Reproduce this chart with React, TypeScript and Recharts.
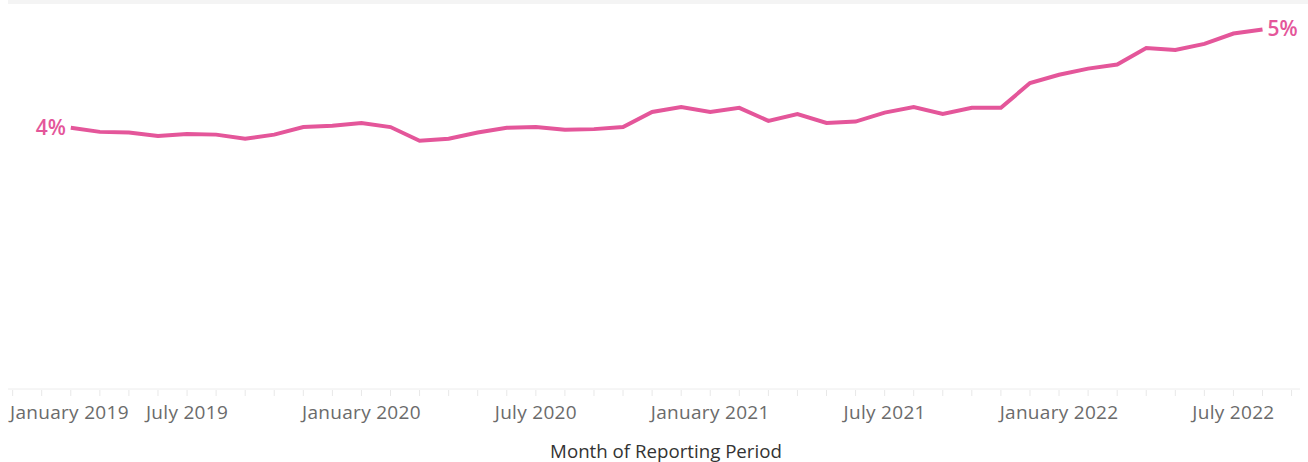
import { LineChart, Line, XAxis, YAxis, LabelList } from "recharts";

// Reporting months (YYYY-MM), one value each
const MONTHS = [
  "2019-03", "2019-04", "2019-05", "2019-06", "2019-07", "2019-08", "2019-09", "2019-10", "2019-11", "2019-12",
  "2020-01", "2020-02", "2020-03", "2020-04", "2020-05", "2020-06", "2020-07", "2020-08", "2020-09", "2020-10", "2020-11", "2020-12",
  "2021-01", "2021-02", "2021-03", "2021-04", "2021-05", "2021-06", "2021-07", "2021-08", "2021-09", "2021-10", "2021-11", "2021-12",
  "2022-01", "2022-02", "2022-03", "2022-04", "2022-05", "2022-06", "2022-07", "2022-08",
];

// Rate in %
const RATE = [
  3.80, 3.74, 3.73, 3.68, 3.71, 3.70, 3.64, 3.70, 3.81, 3.83,
  3.87, 3.81, 3.61, 3.64, 3.73, 3.80, 3.81, 3.77, 3.78, 3.81, 4.03, 4.10,
  4.03, 4.09, 3.90, 4.00, 3.87, 3.89, 4.02, 4.10, 4.00, 4.09, 4.09, 4.45,
  4.57, 4.66, 4.72, 4.96, 4.93, 5.02, 5.17, 5.23,
];

// Labelled ticks every six months, starting January 2019
const TICK_LABELS = [
  "January 2019", "July 2019", "January 2020", "July 2020",
  "January 2021", "July 2021", "January 2022", "July 2022",
];

const PINK = "#e4569a";
const FONT = "'Open Sans', sans-serif";

// "2019-03" -> months since January 2019
const monthIndex = (ym: string): number =>
  (+ym.slice(0, 4) - 2019) * 12 + (+ym.slice(5, 7) - 1);

const data = MONTHS.map((m, i) => ({ m: monthIndex(m), rate: RATE[i] }));
const monthTicks = Array.from({ length: 45 }, (_, i) => i);

const MonthTick = ({ x, y, payload }: any) => {
  const m = payload.value as number;
  const label = m % 6 === 0 ? TICK_LABELS[m / 6] : null;
  return (
    <g>
      <line x1={x} x2={x} y1={y + 1} y2={y + 7} stroke="#e8e8e8" />
      {label && (
        <text
          x={m === 0 ? 10 : x}
          y={y + 30}
          textAnchor={m === 0 ? "start" : "middle"}
          fill="#6b6b6b"
          fontSize={19}
          letterSpacing={0.3}
          fontFamily={FONT}
        >
          {label}
        </text>
      )}
    </g>
  );
};

// only the first and last points carry a label, rounded to whole percent
const EndLabel = ({ x, y, index, value }: any) => {
  if (index !== 0 && index !== RATE.length - 1) return null;
  const first = index === 0;
  return (
    <text
      x={first ? x - 5 : x + 5}
      y={y + 7}
      textAnchor={first ? "end" : "start"}
      fill={PINK}
      fontSize={21}
      fontWeight={600}
      fontFamily={FONT}
    >
      {`${Math.round(value)}%`}
    </text>
  );
};

export default function App() {
  return (
    <div style={{ position: "absolute", left: 0, top: 0, width: 1308, height: 462, background: "#fff" }}>
      <div style={{ position: "absolute", left: 8, top: 0, width: 1300, height: 4, background: "#f4f4f4" }} />
      <LineChart
        width={1308}
        height={462}
        data={data}
        margin={{ top: 15, right: 8, bottom: 0, left: 8 }}
      >
        <XAxis
          dataKey="m"
          type="number"
          domain={[-0.16, 44.29]}
          ticks={monthTicks}
          interval={0}
          height={73}
          tickSize={0}
          tickMargin={0}
          tickLine={false}
          axisLine={{ stroke: "#ececec" }}
          tick={<MonthTick />}
          label={{
            value: "Month of Reporting Period",
            position: "insideBottom",
            offset: 4,
            fill: "#333",
            fontSize: 18.7,
            fontFamily: FONT,
            dx: 12,
          }}
        />
        <YAxis
          width={0}
          domain={[0, 5.44]}
          tick={false}
          tickLine={false}
          axisLine={{ stroke: "#ececec" }}
        />
        <Line
          type="linear"
          dataKey="rate"
          stroke={PINK}
          strokeWidth={4}
          dot={false}
          isAnimationActive={false}
        >
          <LabelList dataKey="rate" content={<EndLabel />} />
        </Line>
      </LineChart>
    </div>
  );
}
